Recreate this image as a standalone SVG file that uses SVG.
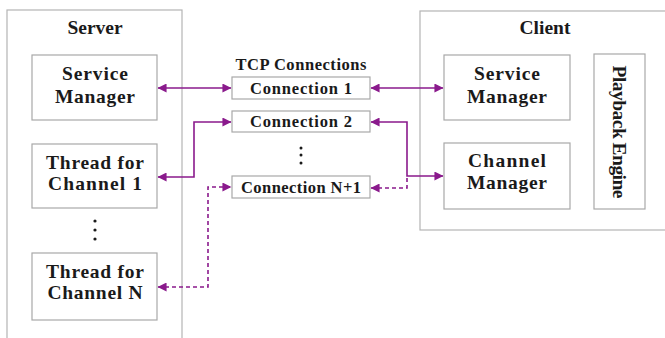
<svg xmlns="http://www.w3.org/2000/svg" width="665" height="338" viewBox="0 0 665 338">
<defs>
<style>
.cont{fill:#fff;stroke:#b4b4b4;stroke-width:1.2}
.box{fill:#fff;stroke:#a8a8a8;stroke-width:1.2}
.t{font-family:"Liberation Serif","Times New Roman",serif;font-weight:bold;fill:#1a1a1a;text-anchor:middle}
.n{font-size:19.5px}
.c{font-size:16.5px}
.ln{fill:none;stroke:#8a1a8c;stroke-width:1.6}
.d{stroke-dasharray:4,3}
.dot{fill:#1a1a1a}
</style>
<marker id="ah" viewBox="0 0 10 10" refX="9.5" refY="5" markerWidth="10" markerHeight="9" markerUnits="userSpaceOnUse" orient="auto-start-reverse">
<path d="M0,0 L10,5 L0,10 z" fill="#8a1a8c"/>
</marker>
</defs>
<rect width="665" height="338" fill="#fff"/>
<g id="server">
<rect class="cont" x="7" y="10" width="175" height="340"/>
<text class="t n" x="95" y="34">Server</text>
</g>
<g id="client">
<rect class="cont" x="420" y="11" width="260" height="219"/>
<text class="t n" x="545" y="34">Client</text>
</g>
<g id="server-service-manager">
<rect class="box" x="32" y="55" width="125" height="65"/>
<text class="t n" x="95" y="80" textLength="66">Service</text>
<text class="t n" x="95" y="103" textLength="80">Manager</text>
</g>
<g id="thread-1">
<rect class="box" x="32" y="144" width="125" height="64"/>
<text class="t n" x="95" y="169" textLength="98">Thread for</text>
<text class="t n" x="95" y="190" textLength="94">Channel 1</text>
</g>
<g id="server-dots">
<circle class="dot" cx="95" cy="221" r="1.6"/>
<circle class="dot" cx="95" cy="230" r="1.6"/>
<circle class="dot" cx="95" cy="239" r="1.6"/>
</g>
<g id="thread-n">
<rect class="box" x="32" y="253" width="125" height="67"/>
<text class="t n" x="95" y="278" textLength="98">Thread for</text>
<text class="t n" x="95" y="299" textLength="95">Channel N</text>
</g>
<g id="tcp">
<text class="t c" x="301" y="70" textLength="131">TCP Connections</text>
</g>
<g id="conn-1">
<rect class="box" x="232" y="77" width="138" height="22"/>
<text class="t c" x="301" y="94" textLength="102">Connection 1</text>
</g>
<g id="conn-2">
<rect class="box" x="232" y="111" width="138" height="21"/>
<text class="t c" x="301" y="127" textLength="102">Connection 2</text>
</g>
<g id="conn-dots">
<circle class="dot" cx="301" cy="148" r="1.5"/>
<circle class="dot" cx="301" cy="155" r="1.5"/>
<circle class="dot" cx="301" cy="163" r="1.5"/>
</g>
<g id="conn-n1">
<rect class="box" x="232" y="176" width="138" height="22"/>
<text class="t c" x="301" y="193" textLength="120">Connection N+1</text>
</g>
<g id="client-service-manager">
<rect class="box" x="444" y="55" width="126" height="65"/>
<text class="t n" x="507" y="80" textLength="66">Service</text>
<text class="t n" x="507" y="103" textLength="80">Manager</text>
</g>
<g id="channel-manager">
<rect class="box" x="444" y="143" width="126" height="66"/>
<text class="t n" x="507" y="167" textLength="78">Channel</text>
<text class="t n" x="507" y="189" textLength="80">Manager</text>
</g>
<g id="playback-engine">
<rect class="box" x="594" y="54" width="51" height="155"/>
<text class="t n" transform="translate(613,132) rotate(90)" x="0" y="0" textLength="133">Playback Engine</text>
</g>
<g id="connectors">
<path class="ln" d="M158,88 H231" marker-start="url(#ah)" marker-end="url(#ah)"/>
<path class="ln" d="M371,88 H443" marker-start="url(#ah)" marker-end="url(#ah)"/>
<path class="ln" d="M158,177 H194 V122 H231" marker-start="url(#ah)" marker-end="url(#ah)"/>
<path class="ln" d="M371,122 H407 V176 H443" marker-start="url(#ah)" marker-end="url(#ah)"/>
<path class="ln d" d="M371,188 H407 V176" marker-start="url(#ah)"/>
<path class="ln d" d="M158,287 H208 V187 H231" marker-start="url(#ah)" marker-end="url(#ah)"/>
</g>
</svg>
